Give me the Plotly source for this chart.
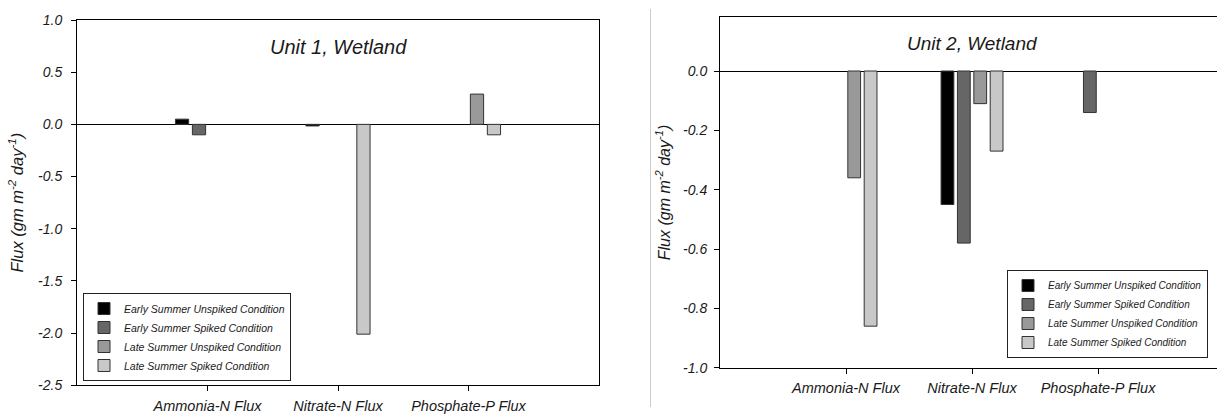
import plotly.graph_objects as go

# ---------------- data ----------------
categories = ["Ammonia-N Flux", "Nitrate-N Flux", "Phosphate-P Flux"]
series_names = [
    "Early Summer Unspiked Condition",
    "Early Summer Spiked Condition",
    "Late Summer Unspiked Condition",
    "Late Summer Spiked Condition",
]

# Unit 1, Wetland (None = no bar drawn)
u1_early_unspiked = [0.05, -0.015, None]
u1_early_spiked = [-0.10, None, None]
u1_late_unspiked = [None, None, 0.29]
u1_late_spiked = [None, -2.01, -0.10]

# Unit 2, Wetland (None = no bar drawn)
u2_early_unspiked = [None, -0.45, None]
u2_early_spiked = [None, -0.58, -0.14]
u2_late_unspiked = [-0.36, -0.11, None]
u2_late_spiked = [-0.86, -0.27, None]

u1_tickvals = [1.0, 0.5, 0.0, -0.5, -1.0, -1.5, -2.0, -2.5]
u1_ticktext = ["1.0", "0.5", "0.0", "-0.5", "-1.0", "-1.5", "-2.0", "-2.5"]
u2_tickvals = [0.0, -0.2, -0.4, -0.6, -0.8, -1.0]
u2_ticktext = ["0.0", "-0.2", "-0.4", "-0.6", "-0.8", "-1.0"]

titles = ["Unit 1, Wetland", "Unit 2, Wetland"]
y_title = "Flux (gm m<sup>-2</sup> day<sup>-1</sup>)"

# ---------------- style ----------------
colors = ["#000000", "#666666", "#999999", "#c8c8c8"]
FONT = "Liberation Sans, Arial, sans-serif"
TXT = "#1a1a1a"

u1_series = [u1_early_unspiked, u1_early_spiked, u1_late_unspiked, u1_late_spiked]
u2_series = [u2_early_unspiked, u2_early_spiked, u2_late_unspiked, u2_late_spiked]

fig = go.Figure()
for name, vals, col in zip(series_names, u1_series, colors):
    fig.add_trace(go.Bar(
        x=categories, y=vals, name=name, xaxis="x", yaxis="y",
        marker=dict(color=col, line=dict(color="#333333", width=1)),
        legend="legend", textposition="none", hoverinfo="x+y+name",
    ))
for name, vals, col in zip(series_names, u2_series, colors):
    fig.add_trace(go.Bar(
        x=categories, y=vals, name=name, xaxis="x2", yaxis="y2",
        marker=dict(color=col, line=dict(color="#333333", width=1)),
        legend="legend2", textposition="none", hoverinfo="x+y+name",
    ))

W, H = 1217, 415

axis_common = dict(
    showgrid=False, showline=True, linecolor="#000000", linewidth=1,
    ticks="outside", ticklen=5, tickcolor="#000000", tickwidth=1,
    automargin=False,
)

legend_common = dict(
    bgcolor="#ffffff", bordercolor="#222222", borderwidth=1,
    traceorder="normal", itemwidth=30, xanchor="left", yanchor="bottom",
    tracegroupgap=0,
)

fig.update_layout(
    template="none",
    width=W, height=H,
    margin=dict(l=0, r=0, t=0, b=0, autoexpand=False),
    paper_bgcolor="#ffffff", plot_bgcolor="#ffffff",
    barmode="group", bargap=0.48, bargroupgap=0.22,
    font=dict(family=FONT, color=TXT),
    xaxis=dict(
        **axis_common, domain=[77 / W, 599 / W], anchor="y",
        type="category", range=[-1, 3], mirror=True,
        tickfont=dict(family=FONT, size=14.5, color=TXT, style="italic"),
        ticklabelstandoff=2,
    ),
    yaxis=dict(
        **axis_common, domain=[1 - 385.3 / H, 1 - 20 / H], anchor="x",
        range=[-2.5, 1.0], mirror=True,
        tickvals=u1_tickvals, ticktext=u1_ticktext,
        tickfont=dict(family=FONT, size=14, color=TXT, style="italic"),
        ticklabelstandoff=6,
        zeroline=True, zerolinecolor="#000000", zerolinewidth=1,
        title=dict(text=y_title, standoff=10,
                   font=dict(family=FONT, size=16.5, color=TXT, style="italic")),
    ),
    xaxis2=dict(
        **axis_common, domain=[720 / W, 1.0], anchor="y2",
        type="category", range=[-1, 2.944], mirror=True,
        tickfont=dict(family=FONT, size=14.5, color=TXT, style="italic"),
        ticklabelstandoff=2,
    ),
    yaxis2=dict(
        **axis_common, domain=[1 - 367.7 / H, 1 - 17.3 / H], anchor="x2",
        range=[-1.0, 0.181], mirror=False,
        tickvals=u2_tickvals, ticktext=u2_ticktext,
        tickfont=dict(family=FONT, size=14, color=TXT, style="italic"),
        ticklabelstandoff=4,
        zeroline=True, zerolinecolor="#000000", zerolinewidth=1,
        title=dict(text=y_title, standoff=8,
                   font=dict(family=FONT, size=16, color=TXT, style="italic")),
    ),
    legend=dict(**legend_common, x=83 / W, y=1 - 381 / H,
                font=dict(family=FONT, size=10.5, color=TXT, style="italic")),
    legend2=dict(**legend_common, x=1007 / W, y=1 - 358 / H,
                 font=dict(family=FONT, size=10, color=TXT, style="italic")),
    annotations=[
        dict(text=titles[0], x=1, xref="x", y=1 - 47 / H, yref="paper",
             showarrow=False, xanchor="center", yanchor="middle",
             font=dict(family=FONT, size=20, color=TXT, style="italic")),
        dict(text=titles[1], x=1, xref="x2", y=1 - 43.3 / H, yref="paper",
             showarrow=False, xanchor="center", yanchor="middle",
             font=dict(family=FONT, size=19, color=TXT, style="italic")),
    ],
    shapes=[
        dict(type="line", xref="paper", yref="paper",
             x0=650.5 / W, x1=650.5 / W, y0=1 - 9 / H, y1=1 - 407 / H,
             line=dict(color="#cccccc", width=1)),
    ],
)

fig.write_html("out.html")
